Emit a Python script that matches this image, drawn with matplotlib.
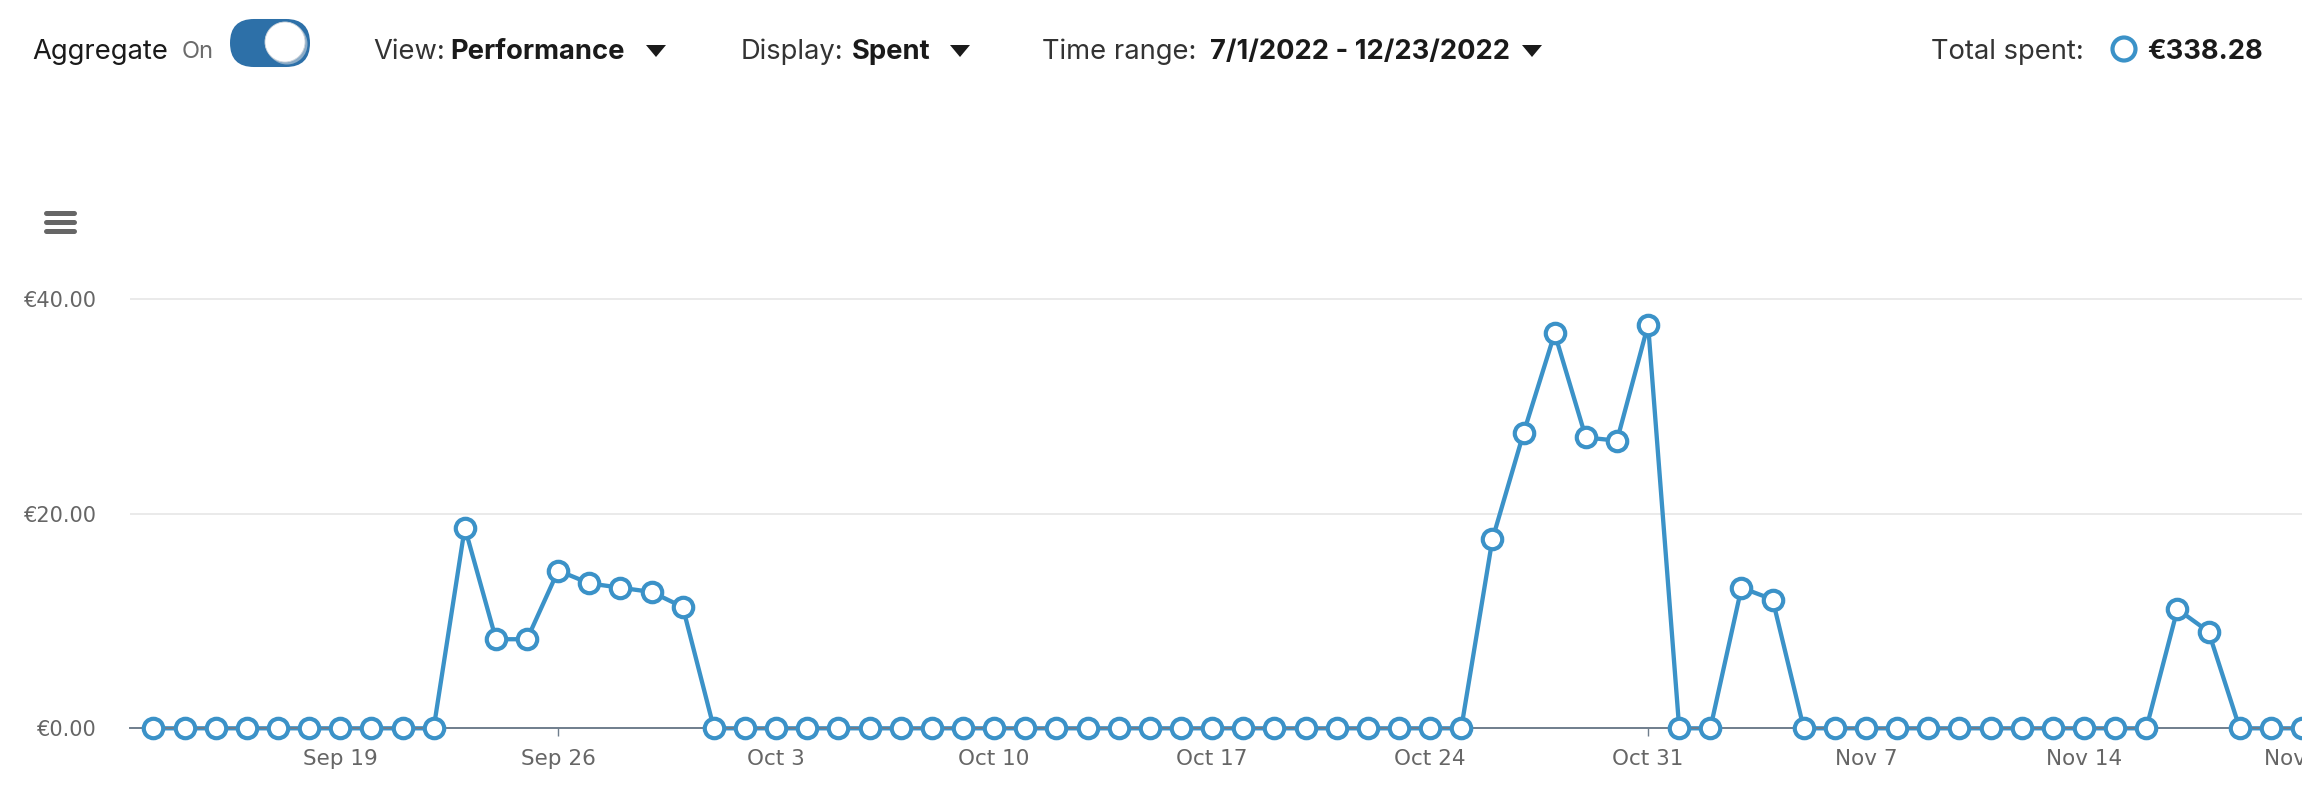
import datetime as dt
import matplotlib
matplotlib.use('Agg')
import matplotlib.pyplot as plt
import matplotlib.dates as mdates
import pandas as pd
from matplotlib.patches import FancyBboxPatch, Circle, Polygon

W, H = 2302, 792  # px

# daily spend, Sep 13 .. Nov 21 2022
days = pd.date_range('2022-09-13', '2022-11-21', freq='D')
spent = [
    0, 0, 0, 0, 0, 0, 0, 0, 0, 0,                     # Sep 13-22
    18.7, 8.3, 8.3, 14.7, 13.5, 13.1, 12.7, 11.3,     # Sep 23-30
    0, 0, 0, 0, 0, 0, 0, 0, 0, 0,                     # Oct 1-10
    0, 0, 0, 0, 0, 0, 0, 0, 0, 0,                     # Oct 11-20
    0, 0, 0, 0, 0,                                    # Oct 21-25
    17.6, 27.5, 36.8, 27.1, 26.8, 37.6,               # Oct 26-31
    0, 0, 13.1, 12.0,                                 # Nov 1-4
    0, 0, 0, 0, 0, 0, 0, 0, 0, 0, 0, 0,               # Nov 5-16
    11.1, 9.0,                                        # Nov 17-18
    0, 0, 0,                                          # Nov 19-21
]

tick_dates = pd.date_range('2022-09-19', '2022-11-21', freq='7D')
tick_labels = ['Sep 19', 'Sep 26', 'Oct 3', 'Oct 10', 'Oct 17', 'Oct 24',
               'Oct 31', 'Nov 7', 'Nov 14', 'Nov 21']
y_ticks = [0, 20, 40]
y_labels = ['€0.00', '€20.00', '€40.00']

blue = '#3b92c8'
axis_grey = '#6f7e8d'

fig = plt.figure(figsize=(W / 100, H / 100), dpi=100)

# main chart area in pixels: x 130..2302, y 280..745
ax = fig.add_axes([130 / W, (H - 745) / H, (W - 130) / W, (745 - 280) / H])
x0 = mdates.date2num(days[0])
ax.set_xlim(x0 - 0.752, x0 + 68.75)
ax.set_ylim(-1.556, 41.77)

ax.plot(days, spent, color=blue, lw=3.1, zorder=2, solid_joinstyle='round')
ax.plot(days, spent, ls='none', marker='o', ms=14, mew=3.0,
        mfc='white', mec=blue, zorder=3, clip_on=False)

for s in ['top', 'right', 'left']:
    ax.spines[s].set_visible(False)
ax.spines['bottom'].set_position(('data', 0))
ax.spines['bottom'].set_color(axis_grey)
ax.spines['bottom'].set_linewidth(1.4)

ax.set_yticks(y_ticks)
ax.set_yticklabels(y_labels)
ax.yaxis.grid(True, color='#e6e6e6', lw=1.2)
ax.set_axisbelow(True)
ax.tick_params(axis='y', length=0, pad=24, labelsize=15, labelcolor='#666666')

ax.set_xticks(tick_dates)
ax.set_xticklabels(tick_labels)
ax.tick_params(axis='x', direction='out', length=6, width=1, color=axis_grey,
               pad=9, labelsize=15.5, labelcolor='#666666')

# header / toolbar drawn on a pixel overlay
ov = fig.add_axes([0, 0, 1, 1], facecolor='none')
ov.set_xlim(0, W)
ov.set_ylim(H, 0)
ov.axis('off')

hf = ['Inter', 'DejaVu Sans']
base_y = 59
fs = 19.7
ov.text(32, base_y, 'Aggregate', fontsize=fs, family=hf, color='#1a1a1a', va='baseline')
ov.text(182, base_y - 1, 'On', fontsize=17, family=hf, color='#6b6b6b', va='baseline')

ov.add_patch(FancyBboxPatch((254, 19 + 24 - 0.01), 32, 0.02,
                            boxstyle='round,pad=24', fc='#2d70a8', ec='none'))
ov.add_patch(Circle((287, 44), 20.5, fc='#c9d3dc', ec='none', alpha=0.6))
ov.add_patch(Circle((285, 42), 20, fc='white', ec='#d0d6dc', lw=0.6))

ov.text(373, base_y, 'View:', fontsize=fs, family=hf, color='#333333', va='baseline')
ov.text(450, base_y, 'Performance', fontsize=fs, family=hf, weight='bold',
        color='#1a1a1a', va='baseline')
ov.text(741, base_y, 'Display:', fontsize=fs, family=hf, color='#333333', va='baseline')
ov.text(852, base_y, 'Spent', fontsize=fs, family=hf, weight='bold',
        color='#1a1a1a', va='baseline')
ov.text(1042, base_y, 'Time range:', fontsize=fs, family=hf, color='#333333', va='baseline')
ov.text(1210, base_y, '7/1/2022 - 12/23/2022', fontsize=fs, family=hf, weight='bold',
        color='#1a1a1a', va='baseline')
for cx in [656, 960, 1532]:
    ov.add_patch(Polygon([(cx - 10, 45), (cx + 10, 45), (cx, 57)], closed=True,
                         fc='#1a1a1a', ec='none'))

ov.text(1931, base_y, 'Total spent:', fontsize=fs, family=hf, color='#333333', va='baseline')
ov.add_patch(Circle((2124, 49), 11.5, fc='white', ec=blue, lw=3.0))
ov.text(2147, base_y, '€338.28', fontsize=fs, family=hf, weight='bold',
        color='#1a1a1a', va='baseline')

# hamburger menu icon
for yy in [213, 222, 231]:
    ov.plot([46, 74], [yy, yy], color='#666666', lw=3.6, solid_capstyle='round')

fig.savefig('out.png', dpi=100)
